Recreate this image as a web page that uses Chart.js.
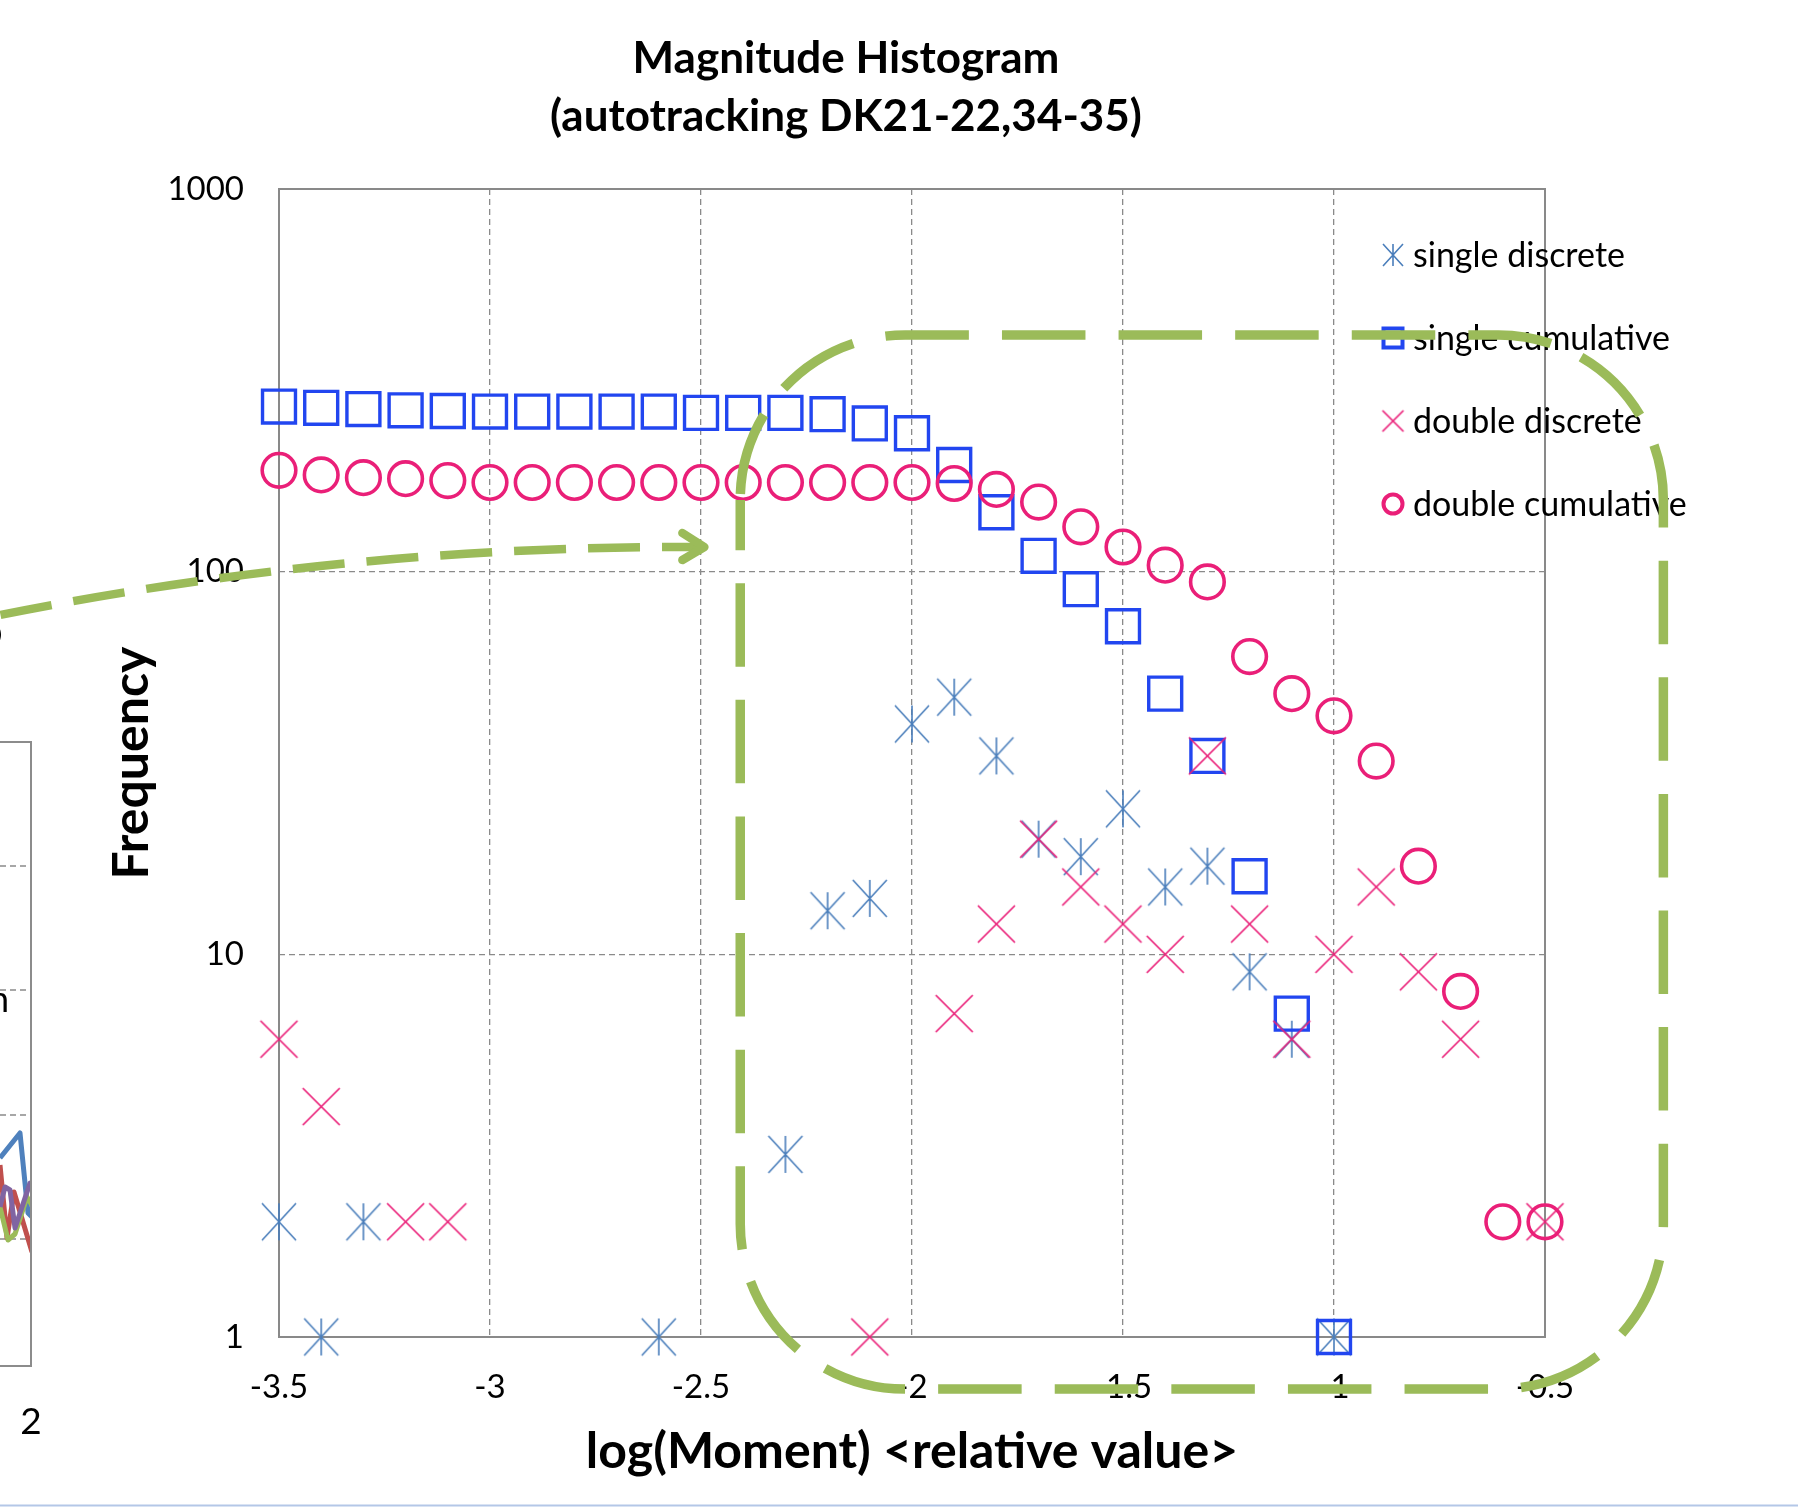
<!DOCTYPE html>
<html><head><meta charset="utf-8">
<script src="https://cdn.jsdelivr.net/npm/chart.js@4.4.1/dist/chart.umd.min.js"></script>
<style>html,body{margin:0;padding:0;background:#fff;overflow:hidden}#wrap{width:1798px;height:1507px;position:relative}canvas{display:block}</style>
</head><body><div id="wrap"><canvas id="c" width="1798" height="1507"></canvas></div>
<script>
// ---- data ----
const logMoment = [-3.5,-3.4,-3.3,-3.2,-3.1,-3.0,-2.9,-2.8,-2.7,-2.6,-2.5,-2.4,-2.3,-2.2,-2.1,-2.0,-1.9,-1.8,-1.7,-1.6,-1.5,-1.4,-1.3,-1.2,-1.1,-1.0,-0.9,-0.8,-0.7,-0.6,-0.5];
const singleDiscrete   = [2,1,2,null,null,null,null,null,null,1,null,null,3,13,14,40,47,33,20,18,24,15,17,9,6,1,null,null,null,null,null];
const singleCumulative = [270,268,266,264,263,262,262,262,262,262,260,260,260,258,244,230,190,143,110,90,72,48,33,16,7,1,null,null,null,null,null];
const doubleDiscrete   = [6,4,null,2,2,null,null,null,null,null,null,null,null,null,1,null,7,12,20,15,12,10,33,12,6,10,15,9,6,null,2];
const doubleCumulative = [184,179,176,175,173,171,171,171,171,171,171,171,171,171,171,171,170,164,152,131,116,104,94,60,48,42,32,17,8,2,2];
const seriesLabels = ['single discrete','single cumulative','double discrete','double cumulative'];
const yTickValues = [1,10,100,1000];
const xTickStep = 0.5;
const titleLines = ['Magnitude Histogram','(autotracking DK21-22,34-35)'];
const xTitle = 'log(Moment) <relative value>';
const yTitle = 'Frequency';

// ---- styles ----
const C_AST = '#4a7ebb', C_SQ = '#2246f0', C_PINK = '#ea1f78', C_GREEN = '#9bbb59', C_GRID = '#8a8a8a';
const FONT = 'Lato';

function makeMarker(kind, w, h, color, lw){
  const c = document.createElement('canvas');
  c.width = Math.ceil(w + lw*2); c.height = Math.ceil(h + lw*2);
  const g = c.getContext('2d');
  g.strokeStyle = color; g.lineWidth = lw;
  const cx = c.width/2, cy = c.height/2;
  g.beginPath();
  g.moveTo(cx-w/2, cy-h/2); g.lineTo(cx+w/2, cy+h/2);
  g.moveTo(cx+w/2, cy-h/2); g.lineTo(cx-w/2, cy+h/2);
  if (kind === 'star'){ g.moveTo(cx, cy-h/2); g.lineTo(cx, cy+h/2); }
  g.stroke();
  return c;
}
const astImg = makeMarker('star', 34, 37, C_AST, 1.6);
const xImg = makeMarker('x', 37, 37, C_PINK, 1.7);
const astLeg = makeMarker('star', 20, 22, C_AST, 1.6);
const xLeg = makeMarker('x', 21, 21, C_PINK, 1.7);

function toPoints(arr){ return logMoment.map((x,i)=>({x, y: arr[i]})).filter(p=>p.y!==null); }

// decorative fragment of a neighbouring chart at the left edge
const fragGrid = [866, 990, 1115, 1239];
const fragLines = [
  {c:'#4f81bd', p:[[0,1158],[20,1133],[28,1213],[33,1218]]},
  {c:'#c0504d', p:[[0,1165],[7,1238],[14,1192],[32,1252]]},
  {c:'#9bbb59', p:[[0,1207],[8,1240],[15,1234],[27,1197],[33,1207]]},
  {c:'#8064a2', p:[[0,1207],[5,1187],[10,1190],[15,1228],[30,1183],[33,1183]]}
];

const deco = {
  id: 'deco',
  beforeDraw(chart){
    const ctx = chart.ctx;
    ctx.save();
    ctx.fillStyle = '#fff'; ctx.fillRect(0,0,chart.width,chart.height);
    ctx.save();
    ctx.beginPath(); ctx.rect(0, 742, 31, 624); ctx.clip();
    ctx.strokeStyle = C_GRID; ctx.lineWidth = 1.5; ctx.setLineDash([6,4]);
    fragGrid.forEach(y=>{ ctx.beginPath(); ctx.moveTo(0,y); ctx.lineTo(31,y); ctx.stroke(); });
    ctx.setLineDash([]); ctx.lineWidth = 5; ctx.lineJoin = 'round';
    fragLines.forEach(l=>{ ctx.strokeStyle = l.c; ctx.beginPath(); l.p.forEach((pt,i)=> i? ctx.lineTo(pt[0],pt[1]) : ctx.moveTo(pt[0],pt[1])); ctx.stroke(); });
    ctx.restore();
    ctx.strokeStyle = '#8c8c8c'; ctx.lineWidth = 2;
    ctx.beginPath(); ctx.moveTo(0,742); ctx.lineTo(31,742); ctx.lineTo(31,1366); ctx.lineTo(0,1366); ctx.stroke();
    ctx.fillStyle = '#000';
    ctx.font = '37px ' + FONT; ctx.textAlign = 'center'; ctx.textBaseline = 'alphabetic';
    ctx.fillText('2', 31, 1434);
    ctx.textAlign = 'right'; ctx.font = '36px ' + FONT;
    ctx.fillText('n', 9, 1012);
    ctx.save(); ctx.translate(-14, 636); ctx.rotate(-Math.PI/2);
    ctx.font = 'bold 48px ' + FONT; ctx.textAlign = 'center'; ctx.textBaseline = 'middle';
    ctx.fillText('e', 0, 0); ctx.restore();
    ctx.strokeStyle = '#b4c7e7'; ctx.lineWidth = 2;
    ctx.beginPath(); ctx.moveTo(0,1505.5); ctx.lineTo(chart.width,1505.5); ctx.stroke();
    ctx.restore();
  },
  beforeDatasetsDraw(chart){
    const {ctx, chartArea: a} = chart;
    ctx.save();
    ctx.strokeStyle = '#898989'; ctx.lineWidth = 2;
    ctx.strokeRect(a.left, a.top, a.right - a.left, a.bottom - a.top);
    ctx.restore();
  },
  afterDraw(chart){
    const ctx = chart.ctx, xs = chart.scales.x, ys = chart.scales.y;
    ctx.save();
    // title
    ctx.fillStyle = '#000'; ctx.textAlign = 'center'; ctx.textBaseline = 'alphabetic';
    ctx.font = 'bold 44px ' + FONT;
    ctx.fillText(titleLines[0], 846, 73);
    ctx.fillText(titleLines[1], 846, 131);
    // legend
    const lx = 1393, ly0 = 255, lstep = 83;
    ctx.font = '34px ' + FONT; ctx.textAlign = 'left'; ctx.textBaseline = 'middle';
    chart.data.datasets.forEach((ds,i)=>{
      const y = ly0 + i*lstep;
      if (ds.legendKind === 'img'){ const im = ds.legendImg; ctx.drawImage(im, lx - im.width/2, y - im.height/2); }
      else if (ds.legendKind === 'rect'){ ctx.strokeStyle = ds.borderColor; ctx.lineWidth = 4; ctx.strokeRect(lx-9.5, y-9.5, 19, 19); }
      else { ctx.strokeStyle = ds.borderColor; ctx.lineWidth = 4; ctx.beginPath(); ctx.arc(lx, y, 9.5, 0, Math.PI*2); ctx.stroke(); }
      ctx.fillStyle = '#000';
      ctx.fillText(ds.label, 1413, y + 1);
    });
    // green callout: rounded dashed frame (path starts on the left side, runs clockwise)
    const L = xs.getPixelForValue(-2.407), R = xs.getPixelForValue(-0.2195);
    const T = ys.getPixelForValue(415.5), B = ys.getPixelForValue(0.731);
    const r = 165;
    ctx.strokeStyle = C_GREEN; ctx.lineWidth = 9.5; ctx.lineCap = 'butt';
    ctx.setLineDash([83.5, 33.1]); ctx.lineDashOffset = 116.6 - 6;
    ctx.beginPath();
    ctx.moveTo(L, T + r);
    ctx.arcTo(L, T, L + r, T, r);
    ctx.lineTo(R - r, T); ctx.arcTo(R, T, R, T + r, r);
    ctx.lineTo(R, B - r); ctx.arcTo(R, B, R - r, B, r);
    ctx.lineTo(L + r, B); ctx.arcTo(L, B, L, B - r, r);
    ctx.lineTo(L, T + r);
    ctx.stroke();
    // green dashed arrow
    const p0 = [xs.getPixelForValue(-4.16), ys.getPixelForValue(77.1)];
    const p1 = [xs.getPixelForValue(-3.33), ys.getPixelForValue(117.4)];
    const p2 = [xs.getPixelForValue(-2.492), ys.getPixelForValue(116)];
    ctx.lineWidth = 8.5; ctx.setLineDash([52, 22]); ctx.lineDashOffset = 0;
    ctx.beginPath(); ctx.moveTo(p0[0], p0[1]); ctx.quadraticCurveTo(p1[0], p1[1], p2[0]-3, p2[1]); ctx.stroke();
    ctx.setLineDash([]); ctx.lineCap = 'round'; ctx.lineJoin = 'round';
    ctx.beginPath(); ctx.moveTo(p2[0]-22, p2[1]-14); ctx.lineTo(p2[0], p2[1]); ctx.lineTo(p2[0]-22, p2[1]+13); ctx.stroke();
    ctx.restore();
  }
};

function build(){
  const gridColor = (edgeVals) => (ctx) => (ctx.tick && edgeVals.includes(ctx.tick.value)) ? 'rgba(0,0,0,0)' : C_GRID;
  new Chart(document.getElementById('c'), {
    type: 'scatter',
    data: { datasets: [
      { label: seriesLabels[0], data: toPoints(singleDiscrete), pointStyle: astImg, pointRadius: 18, pointHoverRadius: 18,
        borderColor: C_AST, backgroundColor: C_AST, order: 4, clip: false, legendKind: 'img', legendImg: astLeg },
      { label: seriesLabels[1], data: toPoints(singleCumulative), pointStyle: 'rect', pointRadius: 23.3, pointHoverRadius: 23.3,
        pointBorderWidth: 3.4, borderColor: C_SQ, backgroundColor: 'rgba(0,0,0,0)', order: 3, clip: false, legendKind: 'rect' },
      { label: seriesLabels[2], data: toPoints(doubleDiscrete), pointStyle: xImg, pointRadius: 18, pointHoverRadius: 18,
        borderColor: C_PINK, backgroundColor: C_PINK, order: 2, clip: false, legendKind: 'img', legendImg: xLeg },
      { label: seriesLabels[3], data: toPoints(doubleCumulative), pointStyle: 'circle', pointRadius: 16.8, pointHoverRadius: 16.8,
        pointBorderWidth: 3.6, borderColor: C_PINK, backgroundColor: 'rgba(0,0,0,0)', order: 1, clip: false, legendKind: 'circle' }
    ]},
    options: {
      responsive: false, animation: false, devicePixelRatio: 1,
      layout: { padding: { left: 0, top: 189, right: 253, bottom: 0 } },
      plugins: { legend: { display: false }, title: { display: false }, tooltip: { enabled: false } },
      events: [],
      scales: {
        x: {
          type: 'linear', position: 'bottom', min: -3.5, max: -0.5,
          afterFit: (s) => { s.height = 170; },
          ticks: { stepSize: xTickStep, color: '#000', font: { family: FONT, size: 33 }, padding: 31,
            callback: (v) => String(Math.round(v*10)/10) },
          grid: { color: gridColor([-3.5, -0.5]), lineWidth: 1.3, drawTicks: false },
          border: { display: false, dash: [6, 4] },
          title: { display: true, text: xTitle, color: '#000', font: { family: FONT, size: 50, weight: 'bold' }, padding: { top: 0, bottom: 25 } }
        },
        y: {
          type: 'logarithmic', position: 'left', min: 1, max: 1000,
          afterFit: (s) => { s.width = 279; },
          afterBuildTicks: (s) => { s.ticks = yTickValues.map(v => ({ value: v })); },
          ticks: { color: '#000', font: { family: FONT, size: 33 }, padding: 35, callback: (v) => String(v) },
          grid: { color: gridColor([1, 1000]), lineWidth: 1.3, drawTicks: false },
          border: { display: false, dash: [6, 4] },
          title: { display: true, text: yTitle, color: '#000', font: { family: FONT, size: 50, weight: 'bold' }, padding: { top: 102, bottom: 0 } }
        }
      }
    },
    plugins: [deco]
  });
}
const fontLoads = ['33px Lato','34px Lato','bold 44px Lato','bold 50px Lato','37px Lato'].map(f => document.fonts ? document.fonts.load(f) : Promise.resolve());
Promise.all(fontLoads).then(build, build);
</script>
</body></html>
